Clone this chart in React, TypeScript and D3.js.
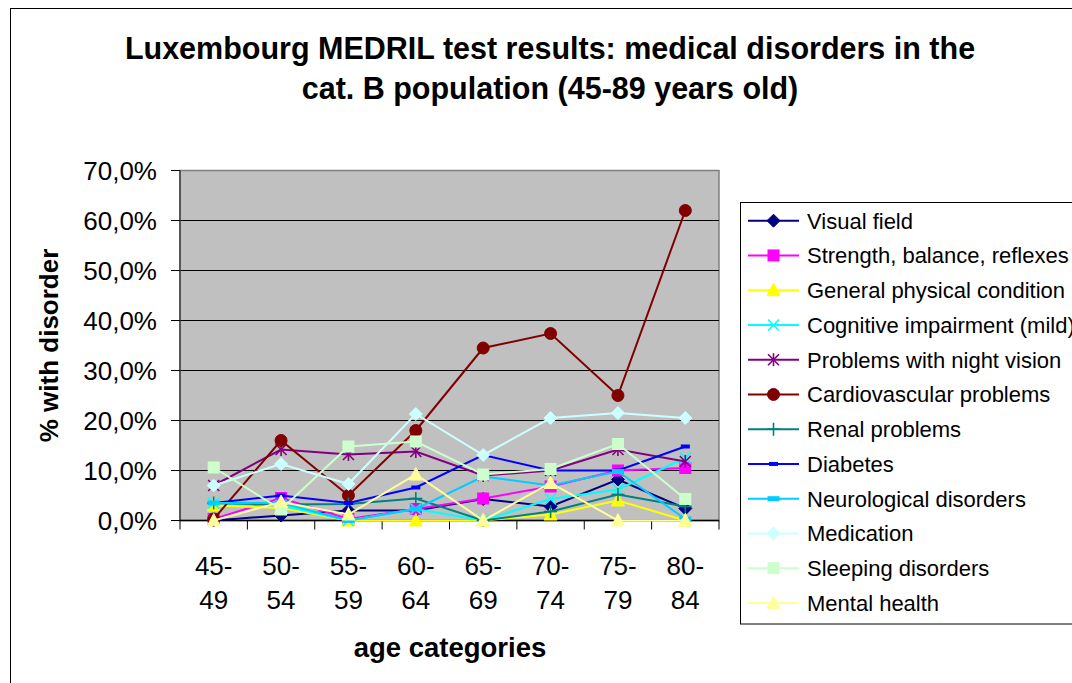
import React from "react";
import * as d3 from "d3";

const categories = ["45-49", "50-54", "55-59", "60-64", "65-69", "70-74", "75-79", "80-84"];
const yTicks = [0, 10, 20, 30, 40, 50, 60, 70];

const visualField = [0, 1.0, 2.0, 2.0, 4.3, 2.8, 8.2, 2.4];
const strength = [0.3, 4.5, 0.3, 2.3, 4.4, 6.8, 10.0, 10.5];
const generalPhysical = [3.0, 2.5, 0, 0, 0, 1.2, 4.0, 0];
const cognitive = [3.5, 3.0, 0, 2.3, 0, 4.3, 6.2, 12.5];
const nightVision = [7.0, 14.2, 13.2, 13.8, 9.0, 10.0, 14.2, 11.8];
const cardiovascular = [0.3, 16.0, 5.0, 18.0, 34.5, 37.4, 25.0, 62.0];
const renal = [3.5, 3.2, 3.3, 4.4, 0, 1.8, 5.2, 2.8];
const diabetes = [3.5, 5.0, 3.5, 6.6, 13.1, 10.0, 10.0, 14.8];
const neurological = [3.5, 3.5, 0, 2.3, 8.8, 7.0, 9.8, 0.3];
const medication = [7.0, 11.3, 7.3, 21.3, 13.1, 20.5, 21.5, 20.5];
const sleeping = [10.6, 2.2, 14.8, 15.8, 9.2, 10.3, 15.3, 4.3];
const mentalHealth = [0, 3.7, 1.2, 9.2, 0, 7.5, 0, 0];

const seriesNames = [
  "Visual field",
  "Strength, balance, reflexes",
  "General physical condition",
  "Cognitive impairment (mild)",
  "Problems with night vision",
  "Cardiovascular problems",
  "Renal problems",
  "Diabetes",
  "Neurological disorders",
  "Medication",
  "Sleeping disorders",
  "Mental health",
];
const seriesColors = [
  "#000080", "#FF00FF", "#FFFF00", "#00FFFF", "#800080", "#800000",
  "#008080", "#0000FF", "#00CCFF", "#CCFFFF", "#CCFFCC", "#FFFF99",
];
const seriesMarkers = [
  "diamond", "square", "triangle", "x", "star", "circle",
  "plus", "dashSmall", "dash", "diamond", "square", "triangle",
];
const seriesValues = [
  visualField, strength, generalPhysical, cognitive, nightVision, cardiovascular,
  renal, diabetes, neurological, medication, sleeping, mentalHealth,
];

const FONT = "'Liberation Sans', Arial, Helvetica, sans-serif";

function Marker({ type, color, cx, cy }: { type: string; color: string; cx: number; cy: number }) {
  const t = `translate(${cx},${cy})`;
  switch (type) {
    case "diamond":
      return <path transform={t} d="M0,-6.5L6.5,0L0,6.5L-6.5,0Z" fill={color} stroke={color} strokeWidth={1} />;
    case "square":
      return <rect transform={t} x={-5.5} y={-5.5} width={11} height={11} fill={color} stroke={color} strokeWidth={1} />;
    case "triangle":
      return <path transform={t} d="M0,-7L6.5,5.5L-6.5,5.5Z" fill={color} stroke={color} strokeWidth={1} />;
    case "x":
      return (
        <g transform={t} stroke={color} strokeWidth={1.6}>
          <line x1={-5.5} y1={-5.5} x2={5.5} y2={5.5} />
          <line x1={-5.5} y1={5.5} x2={5.5} y2={-5.5} />
        </g>
      );
    case "star":
      return (
        <g transform={t} stroke={color} strokeWidth={1.6}>
          <line x1={-5.5} y1={-5.5} x2={5.5} y2={5.5} />
          <line x1={-5.5} y1={5.5} x2={5.5} y2={-5.5} />
          <line x1={0} y1={-6.5} x2={0} y2={6.5} />
        </g>
      );
    case "circle":
      return <circle transform={t} r={6} fill={color} stroke={color} strokeWidth={1} />;
    case "plus":
      return (
        <g transform={t} stroke={color} strokeWidth={1.6}>
          <line x1={-6.5} y1={0} x2={6.5} y2={0} />
          <line x1={0} y1={-6.5} x2={0} y2={6.5} />
        </g>
      );
    case "dashSmall":
      return <rect transform={t} x={-4.5} y={-2} width={9} height={4} fill={color} />;
    case "dash":
      return <rect transform={t} x={-6} y={-2.5} width={12} height={5} fill={color} />;
    default:
      return null;
  }
}

export default function App() {
  const W = 1072;
  const H = 683;
  const left = 180;
  const right = 719;
  const top = 170.5;
  const bottom = 520.5;

  const x = d3.scalePoint<string>().domain(categories).range([left, right]).padding(0.5);
  const y = d3.scaleLinear().domain([0, 70]).range([bottom, top]);
  const step = x.step();

  const lineGen = (vals: number[]) =>
    d3
      .line<number>()
      .x((_, i) => x(categories[i]) as number)
      .y((d) => y(d))(vals) as string;

  const legendX = 740.5;
  const legendY = 202.5;
  const rowH = 34.75;
  const firstRow = 220.7;

  return (
    <svg
      width={W}
      height={H}
      style={{ position: "absolute", left: 0, top: 0, background: "#fff" }}
      fontFamily={FONT}
    >
      <rect x={0} y={0} width={W} height={H} fill="#fff" />
      {/* outer chart border */}
      <rect x={10.5} y={8.5} width={1200} height={800} fill="none" stroke="#000" strokeWidth={1} />

      {/* title */}
      <text x={550} y={59} textAnchor="middle" fontSize={30.5} fontWeight="bold" fill="#000">
        Luxembourg MEDRIL test results: medical disorders in the
      </text>
      <text x={550} y={99} textAnchor="middle" fontSize={30.5} fontWeight="bold" fill="#000">
        cat. B population (45-89 years old)
      </text>

      {/* plot area */}
      <rect x={left} y={top} width={right - left} height={bottom - top} fill="#C0C0C0" stroke="#808080" strokeWidth={1.5} />
      {yTicks
        .filter((t) => t > 0 && t < 70)
        .map((t) => (
          <line key={"g" + t} x1={left} x2={right} y1={y(t)} y2={y(t)} stroke="#000" strokeWidth={1.2} />
        ))}

      {/* y axis */}
      <line x1={left} x2={left} y1={top} y2={bottom} stroke="#404040" strokeWidth={1.5} />
      {yTicks.map((t) => (
        <g key={"yt" + t}>
          <line x1={left - 9} x2={left} y1={y(t)} y2={y(t)} stroke="#000" strokeWidth={1} />
          <text x={157} y={y(t) + 9} textAnchor="end" fontSize={26} fill="#000">
            {d3.format(".1f")(t).replace(".", ",") + "%"}
          </text>
        </g>
      ))}

      {/* x axis */}
      <line x1={left} x2={right} y1={bottom} y2={bottom} stroke="#000" strokeWidth={1.5} />
      {d3.range(categories.length + 1).map((i) => (
        <line
          key={"xt" + i}
          x1={left + i * step}
          x2={left + i * step}
          y1={bottom}
          y2={bottom + 9}
          stroke="#000"
          strokeWidth={1}
        />
      ))}
      {categories.map((c) => {
        const [a, b] = c.split("-");
        return (
          <g key={"xl" + c}>
            <text x={x(c) as number} y={575} textAnchor="middle" fontSize={26} fill="#000">
              {a + "-"}
            </text>
            <text x={x(c) as number} y={609} textAnchor="middle" fontSize={26} fill="#000">
              {b}
            </text>
          </g>
        );
      })}

      {/* axis titles */}
      <text x={450} y={657} textAnchor="middle" fontSize={27.5} fontWeight="bold" fill="#000">
        age categories
      </text>
      <text
        transform={`translate(58,${(top + bottom) / 2}) rotate(-90)`}
        textAnchor="middle"
        fontSize={26}
        fontWeight="bold"
        fill="#000"
      >
        % with disorder
      </text>

      {/* series */}
      {seriesValues.map((vals, s) => (
        <g key={"s" + s}>
          <path d={lineGen(vals)} fill="none" stroke={seriesColors[s]} strokeWidth={2} />
          {vals.map((v, i) => (
            <Marker key={i} type={seriesMarkers[s]} color={seriesColors[s]} cx={x(categories[i]) as number} cy={y(v)} />
          ))}
        </g>
      ))}

      {/* legend */}
      <rect x={legendX} y={legendY} width={400} height={421.5} fill="#fff" stroke="#000" strokeWidth={1} />
      {seriesNames.map((name, i) => {
        const cy = firstRow + i * rowH;
        return (
          <g key={"lg" + i}>
            <line x1={748} x2={799} y1={cy} y2={cy} stroke={seriesColors[i]} strokeWidth={2} />
            <Marker type={seriesMarkers[i]} color={seriesColors[i]} cx={773.5} cy={cy} />
            <text x={807} y={cy + 8} fontSize={22} fill="#000">
              {name}
            </text>
          </g>
        );
      })}
    </svg>
  );
}
